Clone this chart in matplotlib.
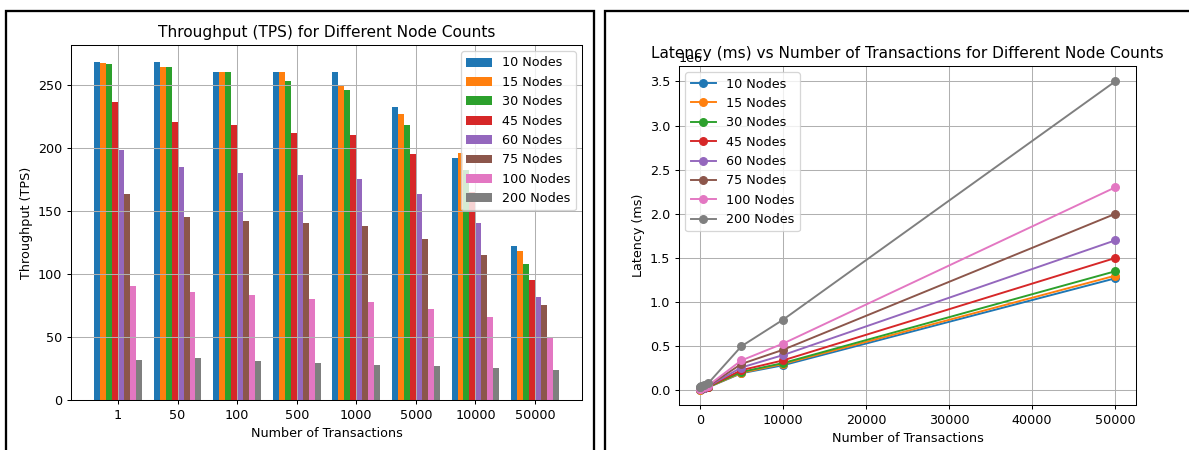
import matplotlib
matplotlib.use("Agg")
import matplotlib.pyplot as plt
from matplotlib.patches import Rectangle
import numpy as np

transactions = [1, 50, 100, 500, 1000, 5000, 10000, 50000]
tx_labels = ["1", "50", "100", "500", "1000", "5000", "10000", "50000"]
node_labels = ["10 Nodes", "15 Nodes", "30 Nodes", "45 Nodes",
               "60 Nodes", "75 Nodes", "100 Nodes", "200 Nodes"]

tps_10 = [268, 268, 260, 260, 260, 232, 192, 122]
tps_15 = [267, 264, 260, 260, 250, 227, 196, 118]
tps_30 = [266, 264, 260, 253, 246, 218, 182, 108]
tps_45 = [236, 220, 218, 212, 210, 195, 165, 95]
tps_60 = [198, 185, 180, 178, 175, 163, 140, 82]
tps_75 = [163, 145, 142, 140, 138, 128, 115, 75]
tps_100 = [90, 86, 83, 80, 78, 72, 66, 50]
tps_200 = [32, 33, 31, 29, 28, 27, 25, 24]

lat_10 = [0.010, 0.012, 0.015, 0.025, 0.035, 0.195, 0.285, 1.27]
lat_15 = [0.011, 0.013, 0.016, 0.026, 0.037, 0.200, 0.300, 1.30]
lat_30 = [0.012, 0.014, 0.017, 0.028, 0.039, 0.210, 0.310, 1.35]
lat_45 = [0.013, 0.015, 0.018, 0.030, 0.042, 0.230, 0.340, 1.50]
lat_60 = [0.014, 0.016, 0.020, 0.033, 0.046, 0.260, 0.400, 1.70]
lat_75 = [0.016, 0.018, 0.022, 0.036, 0.050, 0.300, 0.460, 2.00]
lat_100 = [0.018, 0.020, 0.025, 0.040, 0.055, 0.340, 0.530, 2.30]
lat_200 = [0.040, 0.045, 0.050, 0.060, 0.080, 0.500, 0.800, 3.50]

tps = [tps_10, tps_15, tps_30, tps_45, tps_60, tps_75, tps_100, tps_200]
lat = [lat_10, lat_15, lat_30, lat_45, lat_60, lat_75, lat_100, lat_200]

W, H = 1189, 450
DPI = 92
fig = plt.figure(figsize=(W / DPI, H / DPI), dpi=DPI)

def fx(px):
    return px / W

def fy(py):
    return 1 - py / H

# panel borders
fig.patches.append(Rectangle((fx(6), fy(460)), fx(588), fy(11) - fy(460),
                             transform=fig.transFigure, fill=False,
                             edgecolor="black", linewidth=1.8))
fig.patches.append(Rectangle((fx(605), fy(460)), fx(600), fy(11) - fy(460),
                             transform=fig.transFigure, fill=False,
                             edgecolor="black", linewidth=1.8))

# left: throughput bars
ax1 = fig.add_axes([fx(71), fy(400), fx(582) - fx(71), fy(45) - fy(400)])
x = np.arange(len(transactions))
width = 0.1
for i, (vals, lab) in enumerate(zip(tps, node_labels)):
    ax1.bar(x + (i - 3.5) * width, vals, width, label=lab)
ax1.set_xticks(x)
ax1.set_xticklabels(tx_labels)
ax1.set_xlabel("Number of Transactions")
ax1.set_ylabel("Throughput (TPS)")
ax1.set_title("Throughput (TPS) for Different Node Counts")
ax1.legend(loc="upper right")
ax1.grid(True)

# right: latency lines
ax2 = fig.add_axes([fx(679), fy(405), fx(1136) - fx(679), fy(66) - fy(405)])
for vals, lab in zip(lat, node_labels):
    ax2.plot(transactions, np.array(vals) * 1e6, marker="o", label=lab)
ax2.set_xlabel("Number of Transactions")
ax2.set_ylabel("Latency (ms)")
ax2.set_title("Latency (ms) vs Number of Transactions for Different Node Counts", y=1.0)
ax2.legend(loc="upper left")
ax2.grid(True)

fig.savefig("out.png", dpi=DPI)
